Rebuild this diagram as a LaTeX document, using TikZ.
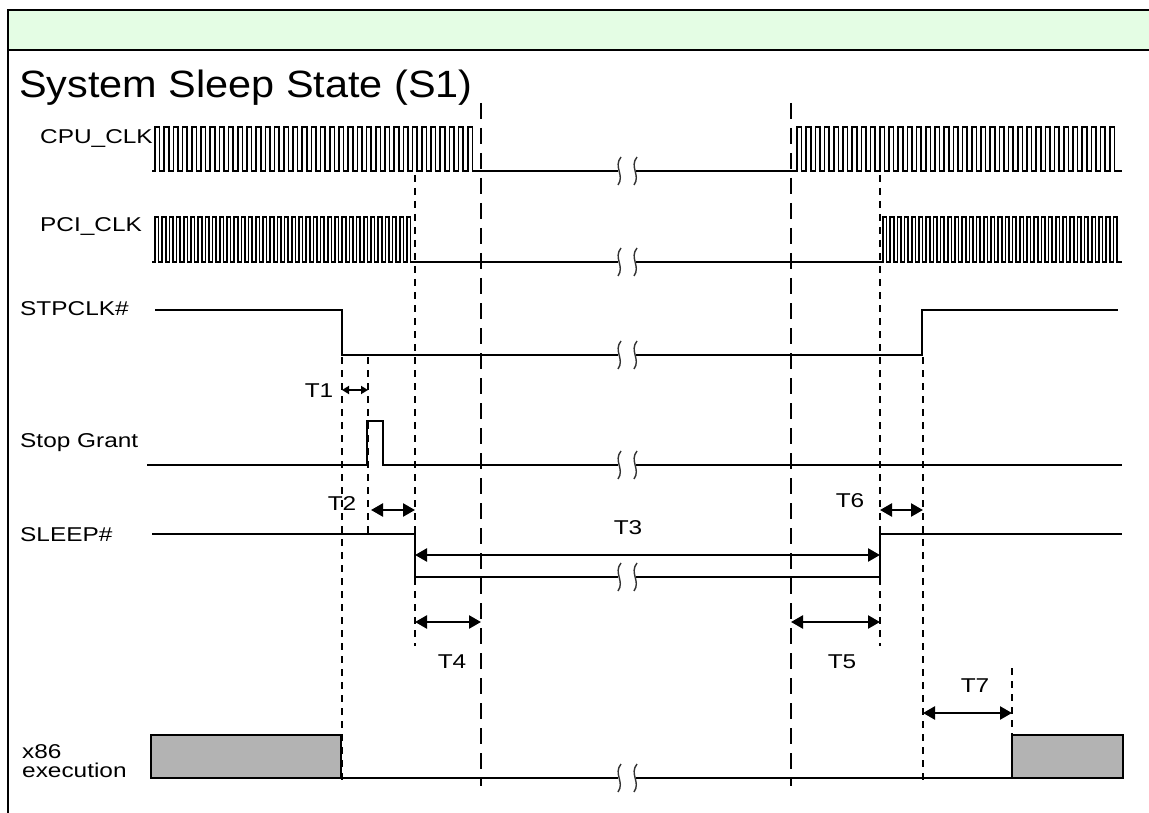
\documentclass[tikz,border=0pt]{standalone}
\usepackage{fontspec}
\setmainfont{Liberation Sans}
\newfontfamily\lblfont{Liberation Sans}[FakeStretch=1.22]
\newfontfamily\ttlfont{Liberation Sans}[FakeStretch=1.09]
\usepackage{tikz}
\usetikzlibrary{arrows.meta}
\definecolor{hdrgreen}{HTML}{E4FDE4}
\definecolor{busygray}{HTML}{B3B3B3}
\newcommand{\brkmark}[2]{\draw[brk] (#1+2,#2-14) .. controls (#1-6,#2-4) and (#1+6,#2+4) .. (#1-1,#2+14);}

\begin{document}
\begin{tikzpicture}[
  x=1pt, y=-1pt,
  frame/.style={line width=2.8pt},
  sig/.style={line width=2.5pt},
  clk/.style={line width=1.7pt},
  brk/.style={line width=1.4pt, black!80},
  edgeln/.style={line width=2.2pt, dash pattern=on 7pt off 6pt},
  phaseln/.style={line width=2.4pt, dash pattern=on 16pt off 9pt},
  dimarr/.style={{Triangle[length=12pt,width=13pt]}-{Triangle[length=12pt,width=13pt]}, line width=2.4pt},
  smallarr/.style={{Triangle[length=7pt,width=8pt]}-{Triangle[length=7pt,width=8pt]}, line width=2pt},
  lbl/.style={font=\lblfont\fontsize{20}{23}\selectfont, inner sep=0pt},
  busy/.style={sig, fill=busygray}
]
  \useasboundingbox (0,0) rectangle (1149,813);
  \clip (0,0) rectangle (1149,813);

  \draw[frame, fill=hdrgreen] (8,10) rectangle (1175,50);
  \draw[frame] (8,50) -- (8,830);
  \node[anchor=base west, inner sep=0pt, font=\ttlfont\fontsize{38}{44}\selectfont] (title) at (19,98) {System Sleep State (S1)};

  % signal names
  \node[lbl, anchor=base west] (cpu) at (40,144) {CPU\_CLK};
  \node[lbl, anchor=base west] (pci) at (40,232) {PCI\_CLK};
  \node[lbl, anchor=base west] (stp) at (20,316) {STPCLK\#};
  \node[lbl, anchor=base west] (sg) at (20,447) {Stop Grant};
  \node[lbl, anchor=base west] (slp) at (20,541) {SLEEP\#};
  \node[lbl, anchor=base west, align=left] (x86) at (22,777) {x86\\[-4pt]execution};

  % clocks
  \draw[clk] (152,171) -- (155,171) foreach \k in {1,...,35} { -- ++(0,-44) -- ++(4.6,0) -- ++(0,44) -- ++(4.6,0) } -- (618,171);
  \draw[clk] (636,171) -- (797,171) foreach \k in {1,...,35} { -- ++(0,-44) -- ++(4.6,0) -- ++(0,44) -- ++(4.6,0) } -- (1122,171);
  \draw[clk] (152,262) -- (155,262) foreach \k in {1,...,36} { -- ++(0,-45) -- ++(3.6,0) -- ++(0,45) -- ++(3.6,0) } -- (618,262);
  \draw[clk] (636,262) -- (883,262) foreach \k in {1,...,33} { -- ++(0,-45) -- ++(3.6,0) -- ++(0,45) -- ++(3.6,0) } -- (1122,262);

  % signals
  \draw[sig] (155,310) -- (342,310) -- (342,355) -- (618,355);
  \draw[sig] (636,355) -- (922,355) -- (922,310) -- (1118,310);
  \draw[sig] (147,465) -- (367,465) -- (367,421) -- (383,421) -- (383,465) -- (618,465);
  \draw[sig] (636,465) -- (1122,465);
  \draw[sig] (152,534) -- (415,534) -- (415,577) -- (618,577);
  \draw[sig] (636,577) -- (880,577) -- (880,534) -- (1122,534);
  \draw[busy] (151,735) rectangle (341,778);
  \draw[sig] (341,778) -- (618,778);
  \draw[sig] (636,778) -- (1012,778);
  \draw[busy] (1012,735) rectangle (1123,778);

  \foreach \yy in {171,262,355,465,577,778} {
    \brkmark{619}{\yy}
    \brkmark{635}{\yy}
  }

  % timing references
  \draw[phaseln] (481,103) -- (481,786);
  \draw[phaseln] (791,103) -- (791,786);
  \draw[edgeln] (342,357) -- (342,786);
  \draw[edgeln] (368,357) -- (368,534);
  \draw[edgeln] (415,175) -- (415,646);
  \draw[edgeln] (880,175) -- (880,646);
  \draw[edgeln] (923,357) -- (923,782);
  \draw[edgeln] (1012,668) -- (1012,735);

  \coordinate (t1a) at (342,390);  \coordinate (t1b) at (368,390);
  \coordinate (t2a) at (371,510);  \coordinate (t2b) at (415,510);
  \coordinate (t3a) at (415,555);  \coordinate (t3b) at (880,555);
  \coordinate (t4a) at (415,622);  \coordinate (t4b) at (481,622);
  \coordinate (t5a) at (791,622);  \coordinate (t5b) at (880,622);
  \coordinate (t6a) at (880,510);  \coordinate (t6b) at (923,510);
  \coordinate (t7a) at (923,713);  \coordinate (t7b) at (1012,713);
  \draw[smallarr] (t1a) -- (t1b);
  \draw[dimarr] (t2a) -- (t2b);
  \draw[dimarr] (t3a) -- (t3b);
  \draw[dimarr] (t4a) -- (t4b);
  \draw[dimarr] (t5a) -- (t5b);
  \draw[dimarr] (t6a) -- (t6b);
  \draw[dimarr] (t7a) -- (t7b);

  \node[lbl, anchor=base] (T1) at (319,397) {T1};
  \node[lbl, anchor=base] (T2) at (342,510) {T2};
  \node[lbl, anchor=base] (T3) at (628,534) {T3};
  \node[lbl, anchor=base] (T4) at (452,668) {T4};
  \node[lbl, anchor=base] (T5) at (842,668) {T5};
  \node[lbl, anchor=base] (T6) at (850,507) {T6};
  \node[lbl, anchor=base] (T7) at (975,692) {T7};
\end{tikzpicture}
\end{document}
